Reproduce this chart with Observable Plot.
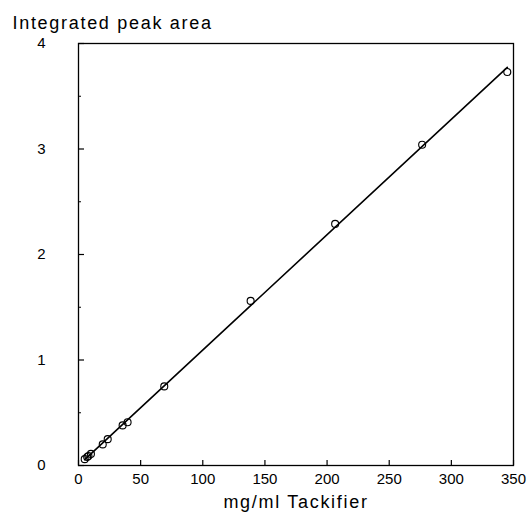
<!DOCTYPE html>
<html>
<head>
<meta charset="utf-8">
<script src="https://cdn.jsdelivr.net/npm/d3@7"></script>
<script src="https://cdn.jsdelivr.net/npm/@observablehq/plot@0.6"></script>
<style>
  html, body { margin: 0; padding: 0; background: #fff; }
  #chart svg { display: block; }
</style>
</head>
<body>
<div id="chart"></div>
<script>
// Data
const conc = [5, 7, 8, 10, 19.5, 23.5, 35.5, 39.5, 69, 138.5, 206.5, 276.5, 345];
const area = [0.06, 0.08, 0.09, 0.11, 0.20, 0.25, 0.38, 0.41, 0.75, 1.56, 2.29, 3.04, 3.73];
const xTicks = [0, 50, 100, 150, 200, 250, 300, 350];
const yTicks = [0, 1, 2, 3, 4];
const yMinorTicks = [0.5, 1.5, 2.5, 3.5];
const yTitle = "Integrated peak area";
const xTitle = "mg/ml Tackifier";

const data = conc.map((c, i) => ({x: c, y: area[i]}));

const W = 529, H = 517;
const mL = 78, mR = 16, mT = 43, mB = 52;
const frameW = W - mL - mR, frameH = H - mT - mB;

const labelFont = "Liberation Sans, Arial, sans-serif";
const tickFont = "Liberation Sans Narrow, Liberation Sans, sans-serif";

const plot = Plot.plot({
  width: W,
  height: H,
  marginLeft: mL,
  marginRight: mR,
  marginTop: mT,
  marginBottom: mB,
  style: {background: "#fff", color: "#000", fontFamily: tickFont},
  x: {domain: [0, 350]},
  y: {domain: [0, 4]},
  marks: [
    Plot.frame({stroke: "#000", strokeWidth: 1.3}),
    // inward ticks
    Plot.tickX(xTicks, {x: d => d, insetTop: frameH - 5, stroke: "#000", strokeWidth: 1.2}),
    Plot.tickY(yTicks, {y: d => d, insetRight: frameW - 6, stroke: "#000", strokeWidth: 1.2}),
    Plot.tickY(yMinorTicks, {y: d => d, insetRight: frameW - 3, stroke: "#000", strokeWidth: 1}),
    // tick labels
    Plot.axisX(xTicks, {tickSize: 0, tickPadding: 8, fontSize: 15, fill: "#000", label: null, tickFormat: "d"}),
    Plot.axisY(yTicks, {tickSize: 0, tickPadding: 33, fontSize: 15, fill: "#000", label: null, tickFormat: "d"}),
    // fitted line
    Plot.linearRegressionY(data, {x: "x", y: "y", ci: 0, stroke: "#000", strokeWidth: 1.6}),
    // data points
    Plot.dot(data, {x: "x", y: "y", r: 3.5, stroke: "#000", strokeWidth: 1.1, fill: "none"}),
    // titles
    Plot.text([yTitle], {text: d => d, frameAnchor: "top-left", dx: -66, dy: -27,
      textAnchor: "start", fontSize: 18, fontFamily: labelFont, fill: "#000"}),
    Plot.text([xTitle], {text: d => d, frameAnchor: "bottom", dy: 42,
      fontSize: 18, fontFamily: labelFont, fill: "#000"})
  ]
});

plot.querySelectorAll("text").forEach(t => {
  const s = t.textContent;
  if (s === yTitle || s === xTitle) t.setAttribute("letter-spacing", "1.7");
});

document.getElementById("chart").appendChild(plot);
</script>
</body>
</html>
